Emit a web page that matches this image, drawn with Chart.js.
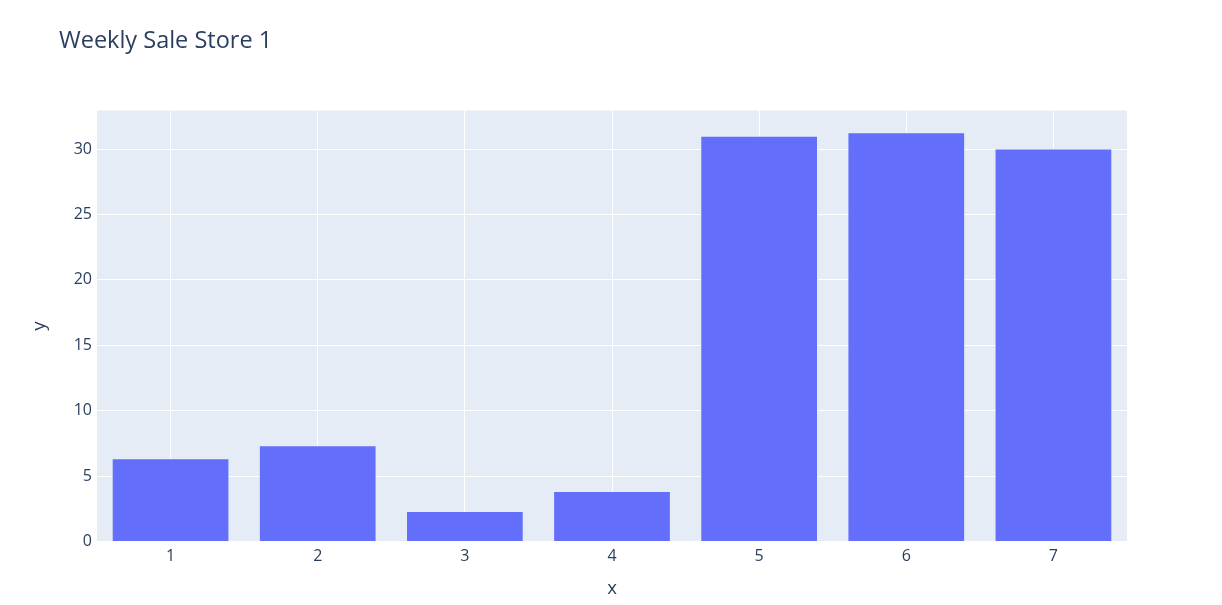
<!DOCTYPE html>
<html>
<head>
<meta charset="utf-8">
<script src="https://cdn.jsdelivr.net/npm/chart.js@4/dist/chart.umd.min.js"></script>
<style>
html,body{margin:0;padding:0;background:#fff;}
#wrap{width:1222px;height:605px;position:relative;}
</style>
</head>
<body>
<div id="wrap"><canvas id="c" width="1222" height="605"></canvas></div>
<script>
const chartTitle = "Weekly Sale Store 1";
const categories = ["1", "2", "3", "4", "5", "6", "7"];
const salesValues = [6.37, 7.36, 2.34, 3.87, 31.02, 31.28, 30.05];
const yTicks = [0, 5, 10, 15, 20, 25, 30];
const xAxisTitle = "x";
const yAxisTitle = "y";

const FONT = "'Open Sans', verdana, arial, sans-serif";
const TXT = "#2a3f5f";

const bgPlugin = {
  id: 'plotBg',
  beforeDraw(chart) {
    const {ctx, chartArea: a} = chart;
    ctx.save();
    ctx.fillStyle = '#E5ECF6';
    ctx.fillRect(a.left, a.top, a.right - a.left, a.bottom - a.top);
    ctx.restore();
  },
  afterDraw(chart) {
    const ctx = chart.ctx;
    ctx.save();
    ctx.font = "23.5px " + FONT;
    ctx.fillStyle = TXT;
    ctx.textBaseline = 'alphabetic';
    ctx.textAlign = 'left';
    ctx.fillText(chartTitle, 59, 48);
    ctx.restore();
  }
};

new Chart(document.getElementById('c'), {
  type: 'bar',
  data: {
    labels: categories,
    datasets: [{
      data: salesValues,
      backgroundColor: '#636efa',
      borderColor: 'rgba(229,236,246,0.6)',
      borderWidth: 1,
      categoryPercentage: 0.8,
      barPercentage: 1.0
    }]
  },
  options: {
    responsive: false,
    animation: false,
    events: [],
    layout: { padding: { left: 28.5, right: 95, top: 110.5, bottom: 0 } },
    plugins: { legend: { display: false }, tooltip: { enabled: false }, title: { display: false } },
    scales: {
      x: {
        grid: { offset: false, color: '#ffffff', lineWidth: 1, drawTicks: false },
        border: { display: false },
        ticks: { color: TXT, font: { family: FONT, size: 16 }, padding: 5 },
        title: { display: true, text: xAxisTitle, color: TXT, font: { family: FONT, size: 18.6 }, padding: { top: 0, bottom: 5 } },
        afterFit(s) { s.height = 63.5; }
      },
      y: {
        min: 0,
        max: 32.95,
        afterBuildTicks(s) { s.ticks = yTicks.map(v => ({ value: v })); },
        grid: { color: '#ffffff', lineWidth: 1, drawTicks: false },
        border: { display: false },
        ticks: { color: TXT, font: { family: FONT, size: 16 }, padding: 5 },
        title: { display: true, text: yAxisTitle, color: TXT, font: { family: FONT, size: 18.6 }, padding: { top: 0, bottom: 0 } },
        afterFit(s) { s.width = 68.5; }
      }
    }
  },
  plugins: [bgPlugin]
});
</script>
</body>
</html>
